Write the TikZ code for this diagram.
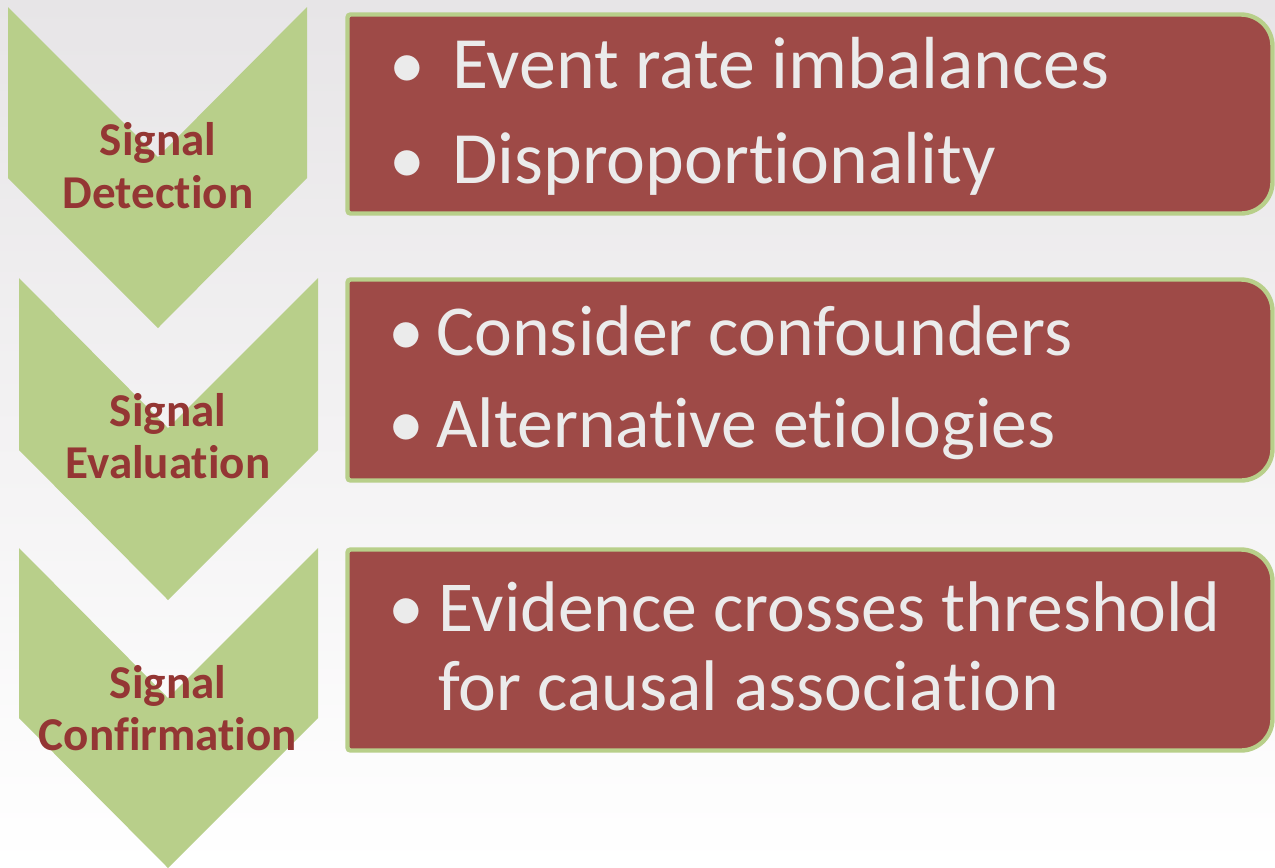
\documentclass[tikz,border=0pt]{standalone}
\usepackage{fontspec}
\setmainfont{Carlito}[Ligatures=NoCommon]
\definecolor{leaf}{HTML}{B8CF8A}
\definecolor{brick}{HTML}{9E4A47}
\definecolor{wine}{HTML}{943634}
\definecolor{chalk}{HTML}{EBEBEB}
\definecolor{bgtop}{HTML}{E7E5E7}
\definecolor{bgmid}{HTML}{F3F2F3}

\begin{document}
\begin{tikzpicture}[x=0.02cm,y=-0.02cm,
  chevron/.style={fill=leaf},
  stage/.style={text=wine,font=\fontsize{26.8}{30}\selectfont\bfseries,align=center,inner sep=0},
  card/.style={fill=brick,draw=leaf,line width=2.5pt},
  item/.style={text=chalk,font=\fontsize{40.8}{48}\selectfont,anchor=base west,inner sep=0},
  bigitem/.style={item,font=\fontsize{42}{48}\selectfont},
  dot/.style={text=chalk,font=\fontsize{40.8}{48}\selectfont,anchor=base,inner sep=0}]
% background
\shade[top color=bgtop,middle color=bgmid,bottom color=white] (0,0) rectangle (1275,867);
\useasboundingbox (0,0) rectangle (1275,867);

% chevrons
\fill[chevron] (8,7) -- (158,157) -- (307,7) -- (307,178) -- (158,328) -- (8,178) -- cycle;
\fill[chevron] (19,278) -- (168,428) -- (318,278) -- (318,450) -- (168,600) -- (19,450) -- cycle;
\fill[chevron] (19,548) -- (168,698) -- (318,548) -- (318,718) -- (168,868) -- (19,718) -- cycle;
\node[stage] (detect) at (158,165.5) {Signal\\Detection};
\node[stage] (eval) at (168,436) {Signal\\Evaluation};
\node[stage] (confirm) at (168,708) {Signal\\Confirmation};

% boxes
\draw[card] (347.5,114) [rounded corners=1.7pt] -- (347.5,14.5) -- (1000,14.5) [rounded corners=18pt] -- (1272.5,14.5) -- (1272.5,213.5) -- (1000,213.5) [rounded corners=1.7pt] -- (347.5,213.5) -- cycle;
\draw[card] (347.5,380) [rounded corners=1.7pt] -- (347.5,279.5) -- (1000,279.5) [rounded corners=18pt] -- (1272.5,279.5) -- (1272.5,480.5) -- (1000,480.5) [rounded corners=1.7pt] -- (347.5,480.5) -- cycle;
\draw[card] (347.5,650) [rounded corners=1.7pt] -- (347.5,549.5) -- (1000,549.5) [rounded corners=18pt] -- (1272.5,549.5) -- (1272.5,750.5) -- (1000,750.5) [rounded corners=1.7pt] -- (347.5,750.5) -- cycle;

\node[dot] (d1) at (407.5,88) {\textbullet};
\node[bigitem] (rate) at (452,88) {Event rate imbalances};
\node[dot] (d2) at (407.5,183) {\textbullet};
\node[bigitem] (dispro) at (452,183) {Disproportionality};

\node[dot] (d3) at (406.5,355) {\textbullet};
\node[item] (confound) at (436,355) {Consider confounders};
\node[dot] (d4) at (406.5,447) {\textbullet};
\node[item] (altern) at (436,447) {Alternative etiologies};

\node[dot] (d5) at (406.5,631) {\textbullet};
\node[item] (evid) at (438,631) {Evidence crosses threshold};
\node[item] (causal) at (438,710) {for causal association};
\end{tikzpicture}
\end{document}
